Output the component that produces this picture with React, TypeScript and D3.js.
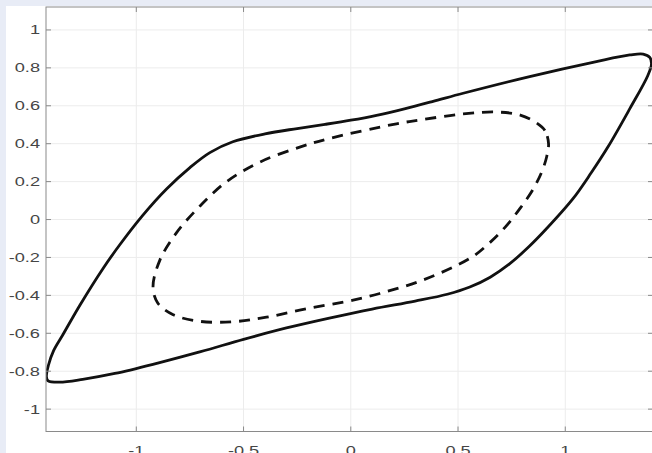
import React from "react";
import * as d3 from "d3";

// outer (solid) hysteresis loop, from the right tip going left along the top branch
const outerX = [1.402, 1.394, 1.363, 1.301, 1.145, 0.834, 0.524, 0.38, 0.25, 0.12, 0.0, -0.12, -0.25, -0.4, -0.55, -0.657, -0.75, -0.859, -0.97, -1.077, -1.155, -1.263, -1.341, -1.385, -1.41, -1.419, -1.411, -1.357, -1.25, -1.1, -0.9, -0.7, -0.5, -0.3, -0.1, 0.1, 0.3, 0.45, 0.555, 0.65, 0.74, 0.83, 0.912, 1.036, 1.12, 1.2, 1.301, 1.385];
const outerY = [0.82, 0.855, 0.873, 0.868, 0.833, 0.754, 0.666, 0.622, 0.584, 0.55, 0.524, 0.502, 0.48, 0.452, 0.41, 0.353, 0.274, 0.161, 0.022, -0.133, -0.258, -0.452, -0.605, -0.69, -0.77, -0.83, -0.851, -0.858, -0.843, -0.812, -0.757, -0.697, -0.632, -0.572, -0.52, -0.472, -0.43, -0.394, -0.356, -0.304, -0.234, -0.144, -0.049, 0.11, 0.245, 0.385, 0.585, 0.76];

// inner (dashed) loop, from its right end going counter-clockwise
const innerX = [0.922, 0.905, 0.866, 0.79, 0.679, 0.524, 0.322, 0.213, -0.098, -0.238, -0.424, -0.58, -0.704, -0.813, -0.89, -0.922, -0.9, -0.828, -0.704, -0.549, -0.393, -0.207, 0.011, 0.135, 0.337, 0.555, 0.64, 0.72, 0.79, 0.85, 0.89, 0.913];
const innerY = [0.4, 0.47, 0.51, 0.551, 0.567, 0.557, 0.525, 0.505, 0.428, 0.382, 0.303, 0.199, 0.07, -0.07, -0.214, -0.355, -0.44, -0.502, -0.537, -0.539, -0.515, -0.471, -0.425, -0.39, -0.319, -0.205, -0.13, -0.04, 0.06, 0.16, 0.25, 0.33];

const xTicks = [-1, -0.5, 0, 0.5, 1];
const yTicks = [-1, -0.8, -0.6, -0.4, -0.2, 0, 0.2, 0.4, 0.6, 0.8, 1];

const W = 652, H = 453;
const left = 46, right = 653, top = 7, bottom = 431.5;

const fmt = (v: number) => String(v);

export default function App() {
  const x = d3.scaleLinear().domain([-1.421, 1.409]).range([left, right]);
  const y = d3.scaleLinear().domain([-1.118, 1.121]).range([bottom, top]);

  const line = d3
    .line<[number, number]>()
    .x((d) => x(d[0]))
    .y((d) => y(d[1]))
    .curve(d3.curveCatmullRomClosed.alpha(0.5));

  const outer = outerX.map((v, i) => [v, outerY[i]] as [number, number]);
  const inner = innerX.map((v, i) => [v, innerY[i]] as [number, number]);

  const axisColor = "#8a8a8a";
  const gridColor = "#ececec";
  const textStyle = { fontFamily: "'Liberation Sans', Arial, sans-serif", fontSize: 13, fill: "#454545" };

  return (
    <svg width={W} height={H} style={{ position: "absolute", left: 0, top: 0, display: "block" }}>
      <rect x={0} y={0} width={W} height={H} fill="#e8ecf6" />
      <rect x={6} y={6} width={W - 6} height={H - 6} fill="#ffffff" />
      <defs>
        <clipPath id="plotClip">
          <rect x={left} y={top} width={right - left} height={bottom - top} />
        </clipPath>
      </defs>
      {/* grid */}
      <g stroke={gridColor} strokeWidth={1}>
        {xTicks.map((t) => (
          <line key={"gx" + t} x1={x(t)} x2={x(t)} y1={top} y2={bottom} />
        ))}
        {yTicks.map((t) => (
          <line key={"gy" + t} x1={left} x2={right} y1={y(t)} y2={y(t)} />
        ))}
      </g>
      {/* curves */}
      <g clipPath="url(#plotClip)" fill="none" stroke="#111" strokeWidth={2.8} strokeLinejoin="round">
        <path d={line(outer) || ""} />
        <path d={line(inner) || ""} strokeDasharray="11 8" />
      </g>
      {/* box and ticks */}
      <rect x={left} y={top} width={right - left} height={bottom - top} fill="none" stroke={axisColor} strokeWidth={1} />
      <g stroke={axisColor} strokeWidth={1}>
        {xTicks.map((t) => (
          <g key={"tx" + t}>
            <line x1={x(t)} x2={x(t)} y1={bottom} y2={bottom - 5} />
            <line x1={x(t)} x2={x(t)} y1={top} y2={top + 5} />
          </g>
        ))}
        {yTicks.map((t) => (
          <g key={"ty" + t}>
            <line x1={left} x2={left + 5} y1={y(t)} y2={y(t)} />
            <line x1={right} x2={right - 5} y1={y(t)} y2={y(t)} />
          </g>
        ))}
      </g>
      {/* tick labels */}
      {yTicks.map((t) => (
        <text
          key={"ly" + t}
          transform={`translate(40,${y(t)}) scale(1.4,1)`}
          textAnchor="end"
          dominantBaseline="central"
          style={textStyle}
        >
          {fmt(t)}
        </text>
      ))}
      {xTicks.map((t) => (
        <text
          key={"lx" + t}
          transform={`translate(${x(t)},455) scale(1.4,1)`}
          textAnchor="middle"
          style={textStyle}
        >
          {fmt(t)}
        </text>
      ))}
    </svg>
  );
}
